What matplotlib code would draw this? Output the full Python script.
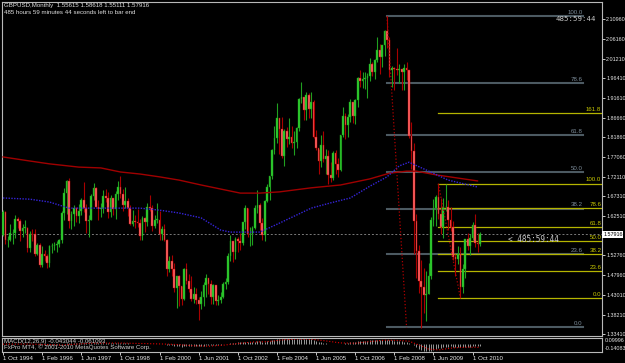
import matplotlib
matplotlib.use('Agg')
import matplotlib.pyplot as plt
from matplotlib.transforms import blended_transform_factory

plt.rcParams['font.family'] = ['Liberation Sans', 'DejaVu Sans']

# monthly bars, Oct 1994 .. Jan 2011 (open = previous close)
first_open = 1.5785
closes = [
    1.6340, 1.5645, 1.5650,
    1.5820, 1.5840, 1.6180, 1.6120, 1.5870, 1.5950, 1.5955, 1.5465, 1.5805, 1.5795, 1.5310, 1.5530,
    1.5040, 1.5320, 1.5270, 1.5080, 1.5500, 1.5510, 1.5540, 1.5560, 1.5650, 1.6330, 1.6820, 1.7120,
    1.6130, 1.6290, 1.6440, 1.6240, 1.6360, 1.6650, 1.6450, 1.6120, 1.6150, 1.6740, 1.6930, 1.6460,
    1.6410, 1.6450, 1.6740, 1.6700, 1.6340, 1.6680, 1.6410, 1.6790, 1.6960, 1.6800, 1.6510, 1.6610,
    1.6440, 1.6040, 1.6120, 1.6110, 1.6070, 1.5760, 1.6200, 1.6090, 1.6470, 1.6450, 1.6000, 1.6150,
    1.6160, 1.5800, 1.5930, 1.5650, 1.4950, 1.5130, 1.4930, 1.4480, 1.4760, 1.4530, 1.4200, 1.4930,
    1.4650, 1.4460, 1.4200, 1.4320, 1.4190, 1.4090, 1.4240, 1.4550, 1.4720, 1.4560, 1.4250, 1.4550,
    1.4160, 1.4170, 1.4250, 1.4570, 1.4620, 1.5260, 1.5640, 1.5370, 1.5690, 1.5640, 1.5570, 1.6100,
    1.6450, 1.5800, 1.5800, 1.5960, 1.6440, 1.6510, 1.6080, 1.5790, 1.6610, 1.6970, 1.7230, 1.7860,
    1.8160, 1.8660, 1.8390, 1.7730, 1.8350, 1.8130, 1.8180, 1.8040, 1.8080, 1.8410, 1.9120, 1.9170,
    1.8850, 1.9220, 1.8880, 1.9060, 1.8190, 1.7910, 1.7590, 1.8000, 1.7660, 1.7720, 1.7250, 1.7190,
    1.7790, 1.7530, 1.7380, 1.8250, 1.8700, 1.8480, 1.8690, 1.9050, 1.8710, 1.9090, 1.9650, 1.9580,
    1.9620, 1.9640, 1.9690, 2.0000, 1.9800, 2.0080, 2.0330, 2.0150, 2.0450, 2.0800, 2.0570, 1.9850,
    1.9890, 1.9860, 1.9850, 1.9870, 1.9790, 1.9900, 1.9850, 1.8210, 1.7850, 1.6120, 1.5390, 1.4640,
    1.4490, 1.4310, 1.4320, 1.4760, 1.6160, 1.6450, 1.6710, 1.6290, 1.5980, 1.6460, 1.6470, 1.6150,
    1.5980, 1.5230, 1.5180, 1.5300, 1.4500, 1.4950, 1.5680, 1.5510, 1.5710, 1.6030, 1.5590, 1.55615,
    1.57916,
]
highs = [
    1.6385, 1.6370, 1.5760,
    1.6050, 1.5920, 1.6280, 1.6210, 1.6170, 1.6050, 1.6150, 1.5980, 1.5870, 1.5920, 1.5920, 1.5590,
    1.5570, 1.5520, 1.5410, 1.5300, 1.5530, 1.5580, 1.5610, 1.5640, 1.5680, 1.6360, 1.6940, 1.7130,
    1.7170, 1.6380, 1.6510, 1.6480, 1.6540, 1.6700, 1.7090, 1.6530, 1.6260, 1.6800, 1.7070, 1.6960,
    1.6640, 1.6570, 1.6880, 1.6920, 1.6830, 1.6760, 1.6680, 1.6850, 1.7100, 1.7220, 1.6900, 1.6970,
    1.6690, 1.6520, 1.6400, 1.6270, 1.6410, 1.6180, 1.6240, 1.6210, 1.6560, 1.6760, 1.6520, 1.6260,
    1.6570, 1.6360, 1.6010, 1.6060, 1.5680, 1.5250, 1.5290, 1.5090, 1.4780, 1.4800, 1.4530, 1.4970,
    1.5090, 1.4830, 1.4780, 1.4500, 1.4470, 1.4240, 1.4390, 1.4620, 1.4810, 1.4690, 1.4680, 1.4580,
    1.4540, 1.4300, 1.4370, 1.4620, 1.4720, 1.5340, 1.5790, 1.5620, 1.5720, 1.5720, 1.5830, 1.6100,
    1.6510, 1.6440, 1.5970, 1.6010, 1.6510, 1.6880, 1.6570, 1.6200, 1.6640, 1.7030, 1.7240, 1.7900,
    1.8460, 1.9040, 1.8650, 1.8690, 1.8400, 1.8440, 1.8650, 1.8450, 1.8350, 1.8440, 1.9140, 1.9550,
    1.9180, 1.9300, 1.9270, 1.9310, 1.9110, 1.8370, 1.7900, 1.8240, 1.8340, 1.7890, 1.7860, 1.7570,
    1.7840, 1.7880, 1.7670, 1.8250, 1.8930, 1.8790, 1.8760, 1.9130, 1.9050, 1.9130, 1.9660, 1.9850,
    1.9800, 1.9790, 1.9760, 2.0130, 2.0040, 2.0110, 2.0660, 2.0490, 2.0450, 2.0830, 2.1160, 2.0650,
    1.9940, 1.9910, 2.0390, 2.0000, 1.9820, 1.9990, 2.0050, 1.9850, 1.8570, 1.8050, 1.6300, 1.5530,
    1.5160, 1.4970, 1.4900, 1.5090, 1.6210, 1.6660, 1.6770, 1.7040, 1.6680, 1.6700, 1.7040, 1.6640,
    1.6460, 1.6130, 1.5300, 1.5520, 1.5490, 1.5060, 1.5690, 1.5820, 1.5800, 1.6100, 1.6300, 1.5830,
    1.58618,
]
lows = [
    1.5765, 1.5560, 1.5480,
    1.5620, 1.5550, 1.5710, 1.5960, 1.5640, 1.5740, 1.5820, 1.5350, 1.5360, 1.5640, 1.5260, 1.5280,
    1.4980, 1.5000, 1.5150, 1.4960, 1.5000, 1.5330, 1.5420, 1.5350, 1.5480, 1.5570, 1.6140, 1.6290,
    1.5950, 1.5920, 1.6000, 1.6100, 1.6080, 1.6260, 1.6340, 1.5830, 1.5730, 1.6140, 1.6640, 1.6460,
    1.6140, 1.6220, 1.6310, 1.6600, 1.6200, 1.6230, 1.6260, 1.6180, 1.6650, 1.6690, 1.6380, 1.6450,
    1.6250, 1.6030, 1.6000, 1.5960, 1.5980, 1.5660, 1.5650, 1.5860, 1.6000, 1.6380, 1.5880, 1.5950,
    1.6080, 1.5650, 1.5650, 1.5620, 1.4780, 1.4860, 1.4760, 1.4380, 1.3970, 1.4030, 1.4050, 1.4170,
    1.4580, 1.4370, 1.4160, 1.4110, 1.4080, 1.3690, 1.3960, 1.4020, 1.4240, 1.4320, 1.4090, 1.4080,
    1.4050, 1.4060, 1.4110, 1.4220, 1.4460, 1.4560, 1.5140, 1.5120, 1.5180, 1.5350, 1.5410, 1.5530,
    1.5930, 1.5720, 1.5520, 1.5530, 1.5930, 1.6310, 1.5890, 1.5650, 1.5620, 1.6600, 1.6640, 1.7150,
    1.7780, 1.8040, 1.7780, 1.7680, 1.7480, 1.7940, 1.8020, 1.7930, 1.7750, 1.7920, 1.8330, 1.9020,
    1.8600, 1.8600, 1.8660, 1.8660, 1.8160, 1.7880, 1.7270, 1.7450, 1.7570, 1.7290, 1.7040, 1.7080,
    1.7130, 1.7290, 1.7210, 1.7350, 1.8180, 1.8150, 1.8180, 1.8560, 1.8540, 1.8510, 1.8920, 1.9430,
    1.9410, 1.9380, 1.9160, 1.9570, 1.9700, 1.9620, 2.0040, 1.9750, 1.9920, 2.0180, 2.0390, 1.9660,
    1.9430, 1.9360, 1.9720, 1.9530, 1.9360, 1.9340, 1.9600, 1.8170, 1.7410, 1.5310, 1.4720, 1.4340,
    1.3500, 1.3870, 1.3650, 1.4320, 1.4700, 1.6010, 1.6000, 1.6180, 1.5800, 1.5710, 1.6360, 1.5900,
    1.5880, 1.5170, 1.4780, 1.5070, 1.4230, 1.4340, 1.4730, 1.5410, 1.5290, 1.5650, 1.5490, 1.5350,
    1.55111,
]

# moving averages (bar index, price)
ma_red_x = [0, 11, 19, 31, 40, 48, 56, 64, 72, 81, 89, 97, 105, 113, 126, 138, 150, 158, 165, 169, 177, 186, 194]
ma_red_y = [1.770, 1.760, 1.753, 1.745, 1.743, 1.733, 1.728, 1.721, 1.713, 1.701, 1.691, 1.681, 1.681,
            1.684, 1.694, 1.701, 1.716, 1.730, 1.735, 1.735, 1.726, 1.718, 1.711]
ma_blue_x = [0, 11, 19, 27, 40, 56, 64, 72, 81, 89, 93, 105, 113, 126, 134, 142, 150, 157, 162, 166, 173, 182, 194]
ma_blue_y = [1.669, 1.666, 1.659, 1.644, 1.644, 1.644, 1.639, 1.632, 1.620, 1.590, 1.585, 1.585, 1.607,
             1.644, 1.657, 1.669, 1.698, 1.721, 1.748, 1.757, 1.738, 1.713, 1.696]

# fibonacci retracements
fib_levels = [0.0, 23.6, 38.2, 50.0, 61.8, 78.6, 100.0]
fib1 = dict(x0=157, x1=165, hi=2.1161, lo=1.3503, end=237)
fib2_levels = [0.0, 23.6, 38.2, 50.0, 61.8, 78.6, 100.0, 161.8]
fib2 = dict(x0=178, x1=187, hi=1.7043, lo=1.4229)

# MACD(12,26,9) main values per bar and signal line points
macd = [
    -0.010, -0.010, -0.012,
    -0.010, -0.008, -0.003, 0.000, 0.000, 0.001, 0.002, -0.003, -0.004, -0.004, -0.008, -0.010,
    -0.018, -0.020, -0.022, -0.026, -0.025, -0.024, -0.022, -0.020, -0.016, -0.008, 0.003, 0.015,
    0.012, 0.012, 0.014, 0.013, 0.013, 0.016, 0.016, 0.013, 0.010, 0.013, 0.017, 0.016,
    0.014, 0.013, 0.014, 0.014, 0.012, 0.012, 0.010, 0.011, 0.013, 0.013, 0.011, 0.010,
    0.008, 0.004, 0.002, 0.000, -0.002, -0.006, -0.005, -0.006, -0.003, -0.001, -0.003, -0.003,
    -0.003, -0.005, -0.006, -0.008, -0.017, -0.022, -0.027, -0.035, -0.038, -0.042, -0.047, -0.044,
    -0.043, -0.042, -0.043, -0.042, -0.041, -0.040, -0.037, -0.031, -0.025, -0.021, -0.020, -0.016,
    -0.015, -0.014, -0.013, -0.010, -0.007, 0.001, 0.011, 0.016, 0.022, 0.026, 0.028, 0.033,
    0.039, 0.038, 0.037, 0.036, 0.039, 0.042, 0.040, 0.034, 0.036, 0.041, 0.047, 0.057,
    0.068, 0.080, 0.085, 0.083, 0.085, 0.085, 0.084, 0.080, 0.076, 0.075, 0.079, 0.082,
    0.081, 0.082, 0.079, 0.077, 0.066, 0.053, 0.039, 0.031, 0.021, 0.013, 0.003, -0.005,
    -0.006, -0.008, -0.011, -0.006, 0.004, 0.010, 0.016, 0.024, 0.027, 0.032, 0.040, 0.046,
    0.050, 0.052, 0.053, 0.057, 0.058, 0.060, 0.063, 0.063, 0.065, 0.069, 0.070, 0.064,
    0.059, 0.054, 0.049, 0.045, 0.041, 0.038, 0.035, 0.018, 0.000, -0.027, -0.054, -0.082,
    -0.103, -0.118, -0.127, -0.130, -0.118, -0.104, -0.089, -0.080, -0.074, -0.063, -0.054, -0.049,
    -0.046, -0.050, -0.053, -0.054, -0.062, -0.063, -0.058, -0.055, -0.050, -0.043, -0.042, -0.041,
    -0.043,
]
sig_x = [0, 10, 18, 24, 30, 36, 48, 60, 66, 72, 78, 84, 90, 96, 102, 108, 114, 120, 126, 132,
         138, 144, 150, 156, 162, 166, 170, 174, 178, 184, 190, 195]
sig_y = [-0.006, -0.004, -0.013, -0.021, -0.006, 0.011, 0.013, 0.002, -0.004, -0.014, -0.034, -0.041,
         -0.024, 0.005, 0.030, 0.037, 0.066, 0.082, 0.079, 0.050, 0.015, 0.010, 0.040, 0.062, 0.058,
         0.045, -0.020, -0.090, -0.105, -0.070, -0.057, -0.061]

date_ticks = list(range(0, 193, 16))
date_labels = ['1 Oct 1994', '1 Feb 1996', '1 Jun 1997', '1 Oct 1998', '1 Feb 2000', '1 Jun 2001',
               '1 Oct 2002', '1 Feb 2004', '1 Jun 2005', '1 Oct 2006', '1 Feb 2008', '1 Jun 2009',
               '1 Oct 2010']
price_ticks = [2.10960, 2.06160, 2.01210, 1.96410, 1.91610, 1.86660, 1.81860, 1.77060, 1.72110,
               1.67310, 1.62510, 1.52760, 1.47960, 1.43010, 1.38210, 1.33410]
last_price = 1.57916

W, H = 625, 363
fs = 4.4
fs_axis = 3.9
fig = plt.figure(figsize=(W / 100, H / 100), dpi=100, facecolor='black')


def px_box(x0, y0, x1, y1):
    return [x0 / W, 1 - y1 / H, (x1 - x0) / W, (y1 - y0) / H]


ax = fig.add_axes(px_box(2, 2, 602, 336))
ax2 = fig.add_axes(px_box(2, 338, 602, 352))
for a in (ax, ax2):
    a.set_facecolor('black')
    a.set_xlim(-0.41, 244.9)
    for s in a.spines.values():
        s.set_color('#b8b8b8')
        s.set_linewidth(0.8)

ax.set_ylim(1.3292, 2.1515)

# candles
opens = [first_open] + closes[:-1]
for i, (o, h, l, c) in enumerate(zip(opens, highs, lows, closes)):
    if c >= o:
        body, edge, wick = '#2fd02f', '#1c9a1c', '#20a020'
    else:
        body, edge, wick = '#ff6a6a', '#c00000', '#a80000'
    ax.vlines(i, l, h, color=wick, lw=0.8, zorder=2)
    ax.bar(i, max(abs(c - o), 0.0015), bottom=min(o, c), width=0.7,
           color=body, edgecolor=edge, lw=0.3, zorder=3)

ax.plot(ma_red_x, ma_red_y, color='#a00000', lw=1.0, zorder=4)
ax.plot(ma_blue_x, ma_blue_y, color='#3524d8', lw=1.0, ls=(0, (1, 1)), zorder=4)

# current price line
ax.axhline(last_price, color='#7a7a7a', lw=0.7, ls=(0, (2, 2)), zorder=1)

# fibo 1 (grey)
ax.plot([fib1['x0'], fib1['x1']], [fib1['hi'], fib1['lo']], color='#b00000', lw=0.9, ls=':', zorder=5)
for lv in fib_levels:
    p = fib1['lo'] + lv / 100 * (fib1['hi'] - fib1['lo'])
    ax.plot([fib1['x0'], fib1['end']], [p, p], color='#4c5a62', lw=1.5, zorder=1)
    ax.text(fib1['end'], p + 0.003, f'{lv:.1f}', color='#7c8c9a', fontsize=fs,
            ha='right', va='bottom', zorder=6)

# fibo 2 (yellow)
ax.plot([fib2['x0'], fib2['x1']], [fib2['hi'], fib2['lo']], color='#b00000', lw=0.9, ls=':', zorder=5)
for lv in fib2_levels:
    p = fib2['lo'] + lv / 100 * (fib2['hi'] - fib2['lo'])
    ax.plot([fib2['x0'], 244.9], [p, p], color='#b4b400', lw=0.9, zorder=1)
    ax.text(244.6, p + 0.003, f'{lv:.1f}', color='#c8c800', fontsize=fs,
            ha='right', va='bottom', zorder=6)

# timers
ax.text(226, 2.1096, '485:59:44', color='#c8c8c8', fontsize=5.3, va='center', ha='left',
        family='DejaVu Sans Mono', zorder=7)
ax.text(206.5, 1.566, '< 485:59:44', color='#c8c8c8', fontsize=5.6, va='center', ha='left',
        family='DejaVu Sans Mono', zorder=7)

# price axis
ax.yaxis.tick_right()
ax.set_yticks(price_ticks)
ax.set_yticklabels([f'{p:.5f}' for p in price_ticks])
ax.tick_params(axis='y', colors='#e8e8e8', length=2, width=0.6, labelsize=fs_axis, pad=1)
ax.set_xticks([])
tr = blended_transform_factory(ax.transAxes, ax.transData)
ax.text(1.002, last_price, f'{last_price:.5f}', transform=tr, color='black', fontsize=fs_axis,
        va='center', ha='left', bbox=dict(fc='white', ec='none', pad=0.5), zorder=8)

# MACD panel
ax2.set_ylim(-0.14083, 0.09996)
ax2.vlines(range(len(macd)), 0, macd, color='#b0b0b0', lw=0.6)
ax2.plot(sig_x, sig_y, color='#e00000', lw=0.8, ls=':')
ax2.set_yticks([])
ax2.set_xticks(date_ticks)
ax2.set_xticklabels(date_labels)
for lbl in ax2.get_xticklabels():
    lbl.set_ha('left')
ax2.tick_params(axis='x', colors='#e8e8e8', length=2, width=0.6, labelsize=fs, pad=1)

fig.text(605 / W, 1 - 341 / H, '0.09996', color='#e8e8e8', fontsize=fs_axis, va='center')
fig.text(605 / W, 1 - 348.5 / H, '-0.14083', color='#e8e8e8', fontsize=fs_axis, va='center')
fig.text(4 / W, 1 - 342 / H, 'MACD(12,26,9) -0.043044 -0.061093', color='#d0d0d0', fontsize=fs, va='center')
fig.text(4 / W, 1 - 347.5 / H, 'FxPro MT4, \u00a9 2001-2010 MetaQuotes Software Corp.', color='#d0d0d0',
         fontsize=fs, va='center')

# header
fig.text(4 / W, 1 - 5.5 / H, 'GBPUSD,Monthly  1.55615 1.58618 1.55111 1.57916', color='#e0e0e0',
         fontsize=fs, va='center')
fig.text(4 / W, 1 - 13 / H, '485 hours 59 minutes 44 seconds left to bar end', color='#e0e0e0',
         fontsize=fs, va='center')

fig.savefig('out.png', dpi=100, facecolor='black')
